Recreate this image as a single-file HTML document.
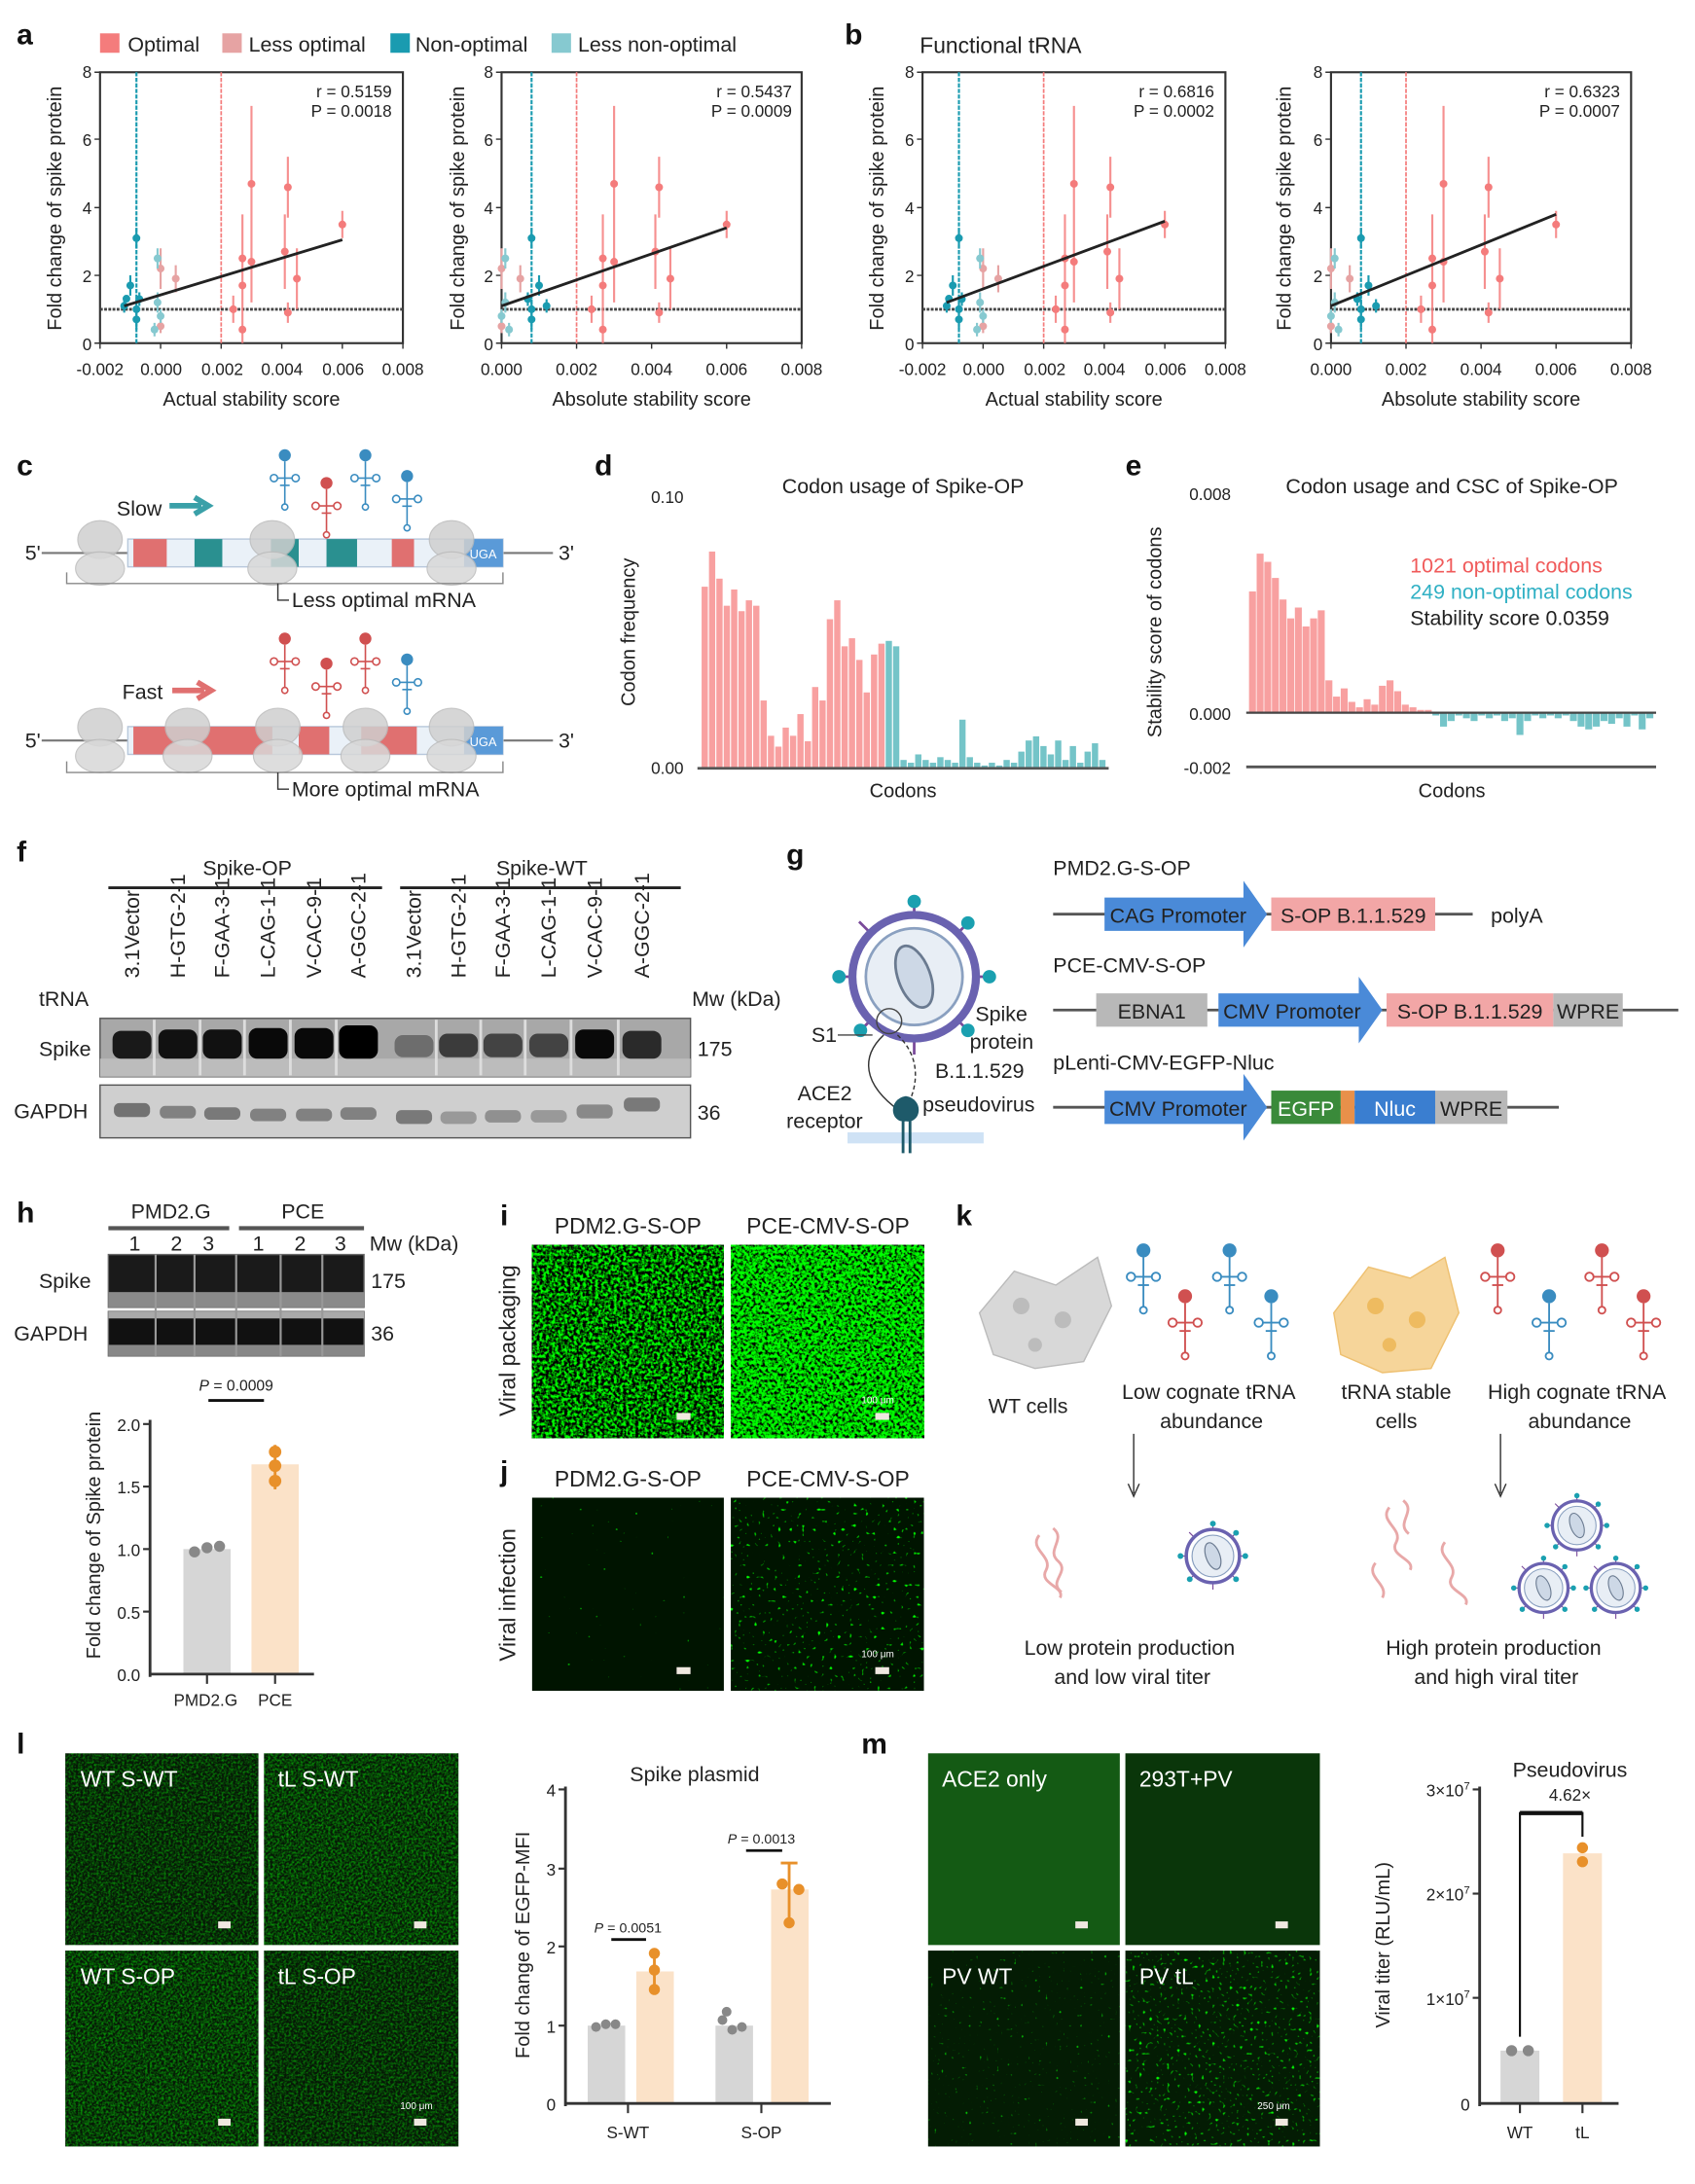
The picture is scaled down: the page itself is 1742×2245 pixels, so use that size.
<!DOCTYPE html>
<html><head><meta charset="utf-8">
<style>
html,body{margin:0;padding:0;background:#fff}
svg{display:block}
text{font-family:"Liberation Sans",Arial,sans-serif;fill:#222}
.pl{font-size:21px;font-weight:bold;fill:#111}
.t{font-size:14px}
.s{font-size:12px}
.m{font-size:15px}
.w{font-size:16px;fill:#fff}
.w text{fill:#fff}
</style></head><body>
<svg width="1742" height="2245" viewBox="0 0 1220 1572" preserveAspectRatio="none" xmlns="http://www.w3.org/2000/svg" xmlns:xlink="http://www.w3.org/1999/xlink">
<defs>
<filter id="gBright" x="0" y="0" width="1" height="1" color-interpolation-filters="sRGB"><feTurbulence type="fractalNoise" baseFrequency="0.45" numOctaves="2" seed="3"/><feColorMatrix values="0 0 0 0 0  3.2 0 0 0 -1.15  0 0 0 0 0  0 0 0 0 1"/></filter>
<filter id="gBright2" x="0" y="0" width="1" height="1" color-interpolation-filters="sRGB"><feTurbulence type="fractalNoise" baseFrequency="0.45" numOctaves="2" seed="7"/><feColorMatrix values="0 0 0 0 0  3.4 0 0 0 -0.95  0 0 0 0 0  0 0 0 0 1"/></filter>
<filter id="gSparse" x="0" y="0" width="1" height="1" color-interpolation-filters="sRGB"><feTurbulence type="fractalNoise" baseFrequency="0.35" numOctaves="1" seed="11"/><feColorMatrix values="0 0 0 0 0  9 0 0 0 -6.8  0 0 0 0 0  0 0 0 0 1"/></filter>
<filter id="gSparse2" x="0" y="0" width="1" height="1" color-interpolation-filters="sRGB"><feTurbulence type="fractalNoise" baseFrequency="0.35" numOctaves="1" seed="5"/><feColorMatrix values="0 0 0 0 0  9 0 0 0 -6.0  0 0 0 0 0  0 0 0 0 1"/></filter>
<filter id="gDim" x="0" y="0" width="1" height="1" color-interpolation-filters="sRGB"><feTurbulence type="fractalNoise" baseFrequency="0.6" numOctaves="2" seed="2"/><feColorMatrix values="0 0 0 0 0  1.1 0 0 0 -0.42  0 0 0 0 0  0 0 0 0 1"/></filter>
<filter id="gDim2" x="0" y="0" width="1" height="1" color-interpolation-filters="sRGB"><feTurbulence type="fractalNoise" baseFrequency="0.6" numOctaves="2" seed="9"/><feColorMatrix values="0 0 0 0 0  1.2 0 0 0 -0.42  0 0 0 0 0  0 0 0 0 1"/></filter>
<filter id="gPV" x="0" y="0" width="1" height="1" color-interpolation-filters="sRGB"><feTurbulence type="fractalNoise" baseFrequency="0.4" numOctaves="1" seed="4"/><feColorMatrix values="0 0 0 0 0  6 0 0 0 -4.2  0 0 0 0 0  0 0 0 0 1"/></filter>
<filter id="gPV2" x="0" y="0" width="1" height="1" color-interpolation-filters="sRGB"><feTurbulence type="fractalNoise" baseFrequency="0.4" numOctaves="1" seed="8"/><feColorMatrix values="0 0 0 0 0  6 0 0 0 -3.8  0 0 0 0 0  0 0 0 0 1"/></filter>
<symbol id="trna" viewBox="0 0 30 50" overflow="visible">
<circle cx="15" cy="5" r="5" fill="currentColor"/>
<g fill="none" stroke="currentColor" stroke-width="1.3"><line x1="15" y1="10" x2="15" y2="46"/><circle cx="6" cy="24" r="3"/><circle cx="24" cy="24" r="3"/><circle cx="15" cy="48" r="2.5"/><line x1="9" y1="24" x2="21" y2="24"/><line x1="11" y1="30" x2="19" y2="30"/></g>
</symbol>
<symbol id="virus" viewBox="-60 -60 120 120" overflow="visible">
<g stroke="#7a4a9a" stroke-width="2"><line x1="0" y1="-58" x2="0" y2="58"/><line x1="-58" y1="0" x2="58" y2="0"/><line x1="-41" y1="-41" x2="41" y2="41"/><line x1="41" y1="-41" x2="-41" y2="41"/></g>
<circle r="46" fill="#fff" stroke="#6a62b0" stroke-width="6"/>
<circle r="36" fill="#e8eef5" stroke="#8aa0c0" stroke-width="2"/>
<ellipse rx="12" ry="24" fill="#cdd8e6" stroke="#6a7a90" stroke-width="2" transform="rotate(-20)"/>
<g fill="#1aa0b0"><circle cx="0" cy="-56" r="5"/><circle cx="56" cy="0" r="5"/><circle cx="-40" cy="40" r="5"/><circle cx="40" cy="40" r="5"/><circle cx="-56" cy="0" r="5"/><circle cx="40" cy="-40" r="5"/></g>
</symbol>
<symbol id="ribo" viewBox="-25 -30 50 60" overflow="visible">
<ellipse cx="0" cy="-12" rx="20" ry="17" fill="#cfcfcf" stroke="#bbb" opacity="0.85"/>
<ellipse cx="0" cy="14" rx="22" ry="15" fill="#d8d8d8" stroke="#bbb" opacity="0.85"/>
</symbol>

<g id="p1">
<rect x="72" y="52" width="218" height="195" fill="none" stroke="#333" stroke-width="1.5"/>
<path d="M68 52H72M68 100.2H72M68 149.4H72M68 198.2H72M68 247H72M72 247V251M115.6 247V251M159.2 247V251M202.8 247V251M246.4 247V251M290 247V251" stroke="#333"/>
<line x1="98.2" y1="52" x2="98.2" y2="247" stroke="#1a9bb0" stroke-width="1.5" stroke-dasharray="3 1"/>
<line x1="159.2" y1="52" x2="159.2" y2="247" stroke="#f47c7c" stroke-width="1.2" stroke-dasharray="3 1"/>
<line x1="72" y1="222.6" x2="290" y2="222.6" stroke="#444" stroke-width="2" stroke-dasharray="2 1"/>
<path stroke="#f47c7c" stroke-width="1.5" opacity="0.85" fill="none" d="M174.5 154.3V217.7M174.5 181.1V229.9M174.5 227.5V247M167.9 212.8V232.4M181 76.2V188.4M181 159.2V217.7M205 154.3V208M207.2 112.8V156.7M207.2 217.7V232.4M213.7 178.7V222.6M246.4 151.8V171.4"/>
<g fill="#f47c7c"><circle cx="174.5" cy="186" r="2.8"/><circle cx="174.5" cy="205.5" r="2.8"/><circle cx="174.5" cy="237.2" r="2.8"/><circle cx="167.9" cy="222.6" r="2.8"/><circle cx="181" cy="132.3" r="2.8"/><circle cx="181" cy="188.4" r="2.8"/><circle cx="205" cy="181.1" r="2.8"/><circle cx="207.2" cy="134.8" r="2.8"/><circle cx="207.2" cy="225" r="2.8"/><circle cx="213.7" cy="200.6" r="2.8"/><circle cx="246.4" cy="161.6" r="2.8"/></g>
<path stroke="#e6a3a3" stroke-width="1.5" fill="none" d="M115.6 178.7V208M126.5 190.9V210.4M115.6 229.9V239.7"/>
<g fill="#e6a3a3"><circle cx="115.6" cy="193.3" r="2.8"/><circle cx="126.5" cy="200.6" r="2.8"/><circle cx="115.6" cy="234.8" r="2.8"/></g>
<path stroke="#1a9bb0" stroke-width="1.5" fill="none" d="M98.2 164V178.7M93.8 198.2V212.8M98.2 215.3V229.9M98.2 222.6V237.2M89.4 215.3V225M100.3 210.4V220.2"/>
<g fill="#1a9bb0"><circle cx="98.2" cy="171.4" r="2.8"/><circle cx="93.8" cy="205.5" r="2.8"/><circle cx="98.2" cy="222.6" r="2.8"/><circle cx="98.2" cy="229.9" r="2.8"/><circle cx="89.4" cy="220.2" r="2.8"/><circle cx="100.3" cy="215.3" r="2.8"/><circle cx="91" cy="215" r="2.8"/></g>
<path stroke="#86c9d0" stroke-width="1.5" fill="none" d="M113.4 178.7V193.3M113.4 210.4V225M115.6 222.6V232.4M111.2 232.4V242.1"/>
<g fill="#86c9d0"><circle cx="113.4" cy="186" r="2.8"/><circle cx="113.4" cy="217.7" r="2.8"/><circle cx="115.6" cy="227.5" r="2.8"/><circle cx="111.2" cy="237.2" r="2.8"/></g>
</g>
<g id="p2">
<rect x="361" y="52" width="216" height="195" fill="none" stroke="#333" stroke-width="1.5"/>
<path d="M357 52H361M357 100.2H361M357 149.4H361M357 198.2H361M357 247H361M361 247V251M415 247V251M469 247V251M523 247V251M577 247V251" stroke="#333"/>
<line x1="382.6" y1="52" x2="382.6" y2="247" stroke="#1a9bb0" stroke-width="1.5" stroke-dasharray="3 1"/>
<line x1="415" y1="52" x2="415" y2="247" stroke="#f47c7c" stroke-width="1.2" stroke-dasharray="3 1"/>
<line x1="361" y1="222.6" x2="577" y2="222.6" stroke="#444" stroke-width="2" stroke-dasharray="2 1"/>
<path stroke="#f47c7c" stroke-width="1.5" opacity="0.85" fill="none" d="M433.9 154.3V217.7M433.9 181.1V229.9M433.9 227.5V247M425.8 212.8V232.4M442 76.2V188.4M442 159.2V217.7M471.7 154.3V208M474.4 112.8V156.7M474.4 217.7V232.4M482.5 178.7V222.6M523 151.8V171.4"/>
<g fill="#f47c7c"><circle cx="433.9" cy="186" r="2.8"/><circle cx="433.9" cy="205.5" r="2.8"/><circle cx="433.9" cy="237.2" r="2.8"/><circle cx="425.8" cy="222.6" r="2.8"/><circle cx="442" cy="132.3" r="2.8"/><circle cx="442" cy="188.4" r="2.8"/><circle cx="471.7" cy="181.1" r="2.8"/><circle cx="474.4" cy="134.8" r="2.8"/><circle cx="474.4" cy="225" r="2.8"/><circle cx="482.5" cy="200.6" r="2.8"/><circle cx="523" cy="161.6" r="2.8"/></g>
<path stroke="#e6a3a3" stroke-width="1.5" fill="none" d="M361 178.7V208M374.5 190.9V210.4M361 229.9V239.7"/>
<g fill="#e6a3a3"><circle cx="361" cy="193.3" r="2.8"/><circle cx="374.5" cy="200.6" r="2.8"/><circle cx="361" cy="234.8" r="2.8"/></g>
<path stroke="#1a9bb0" stroke-width="1.5" fill="none" d="M382.6 164V178.7M388 198.2V212.8M382.6 215.3V229.9M382.6 222.6V237.2M393.4 215.3V225M379.9 210.4V220.2"/>
<g fill="#1a9bb0"><circle cx="382.6" cy="171.4" r="2.8"/><circle cx="388" cy="205.5" r="2.8"/><circle cx="382.6" cy="222.6" r="2.8"/><circle cx="382.6" cy="229.9" r="2.8"/><circle cx="393.4" cy="220.2" r="2.8"/><circle cx="379.9" cy="215.3" r="2.8"/></g>
<path stroke="#86c9d0" stroke-width="1.5" fill="none" d="M363.7 178.7V193.3M363.7 210.4V225M361 222.6V232.4M366.4 232.4V242.1"/>
<g fill="#86c9d0"><circle cx="363.7" cy="186" r="2.8"/><circle cx="363.7" cy="217.7" r="2.8"/><circle cx="361" cy="227.5" r="2.8"/><circle cx="366.4" cy="237.2" r="2.8"/></g>
</g>
</defs>

<!-- ===== Panel a / b ===== -->
<text class="pl" x="12" y="32">a</text>
<rect x="72" y="24" width="14" height="14" fill="#f47c7c"/><text class="m" x="92" y="37">Optimal</text>
<rect x="160" y="24" width="14" height="14" fill="#e6a3a3"/><text class="m" x="179" y="37">Less optimal</text>
<rect x="281" y="24" width="14" height="14" fill="#1a9bb0"/><text class="m" x="299" y="37">Non-optimal</text>
<rect x="397" y="24" width="14" height="14" fill="#86c9d0"/><text class="m" x="416" y="37">Less non-optimal</text>
<text class="pl" x="608" y="32">b</text>
<text class="m" x="662" y="38" style="font-size:16px">Functional tRNA</text>

<use href="#p1" xlink:href="#p1"/>
<line x1="89.4" y1="220.2" x2="246.4" y2="172.6" stroke="#222" stroke-width="2"/>
<use href="#p2" xlink:href="#p2"/>
<line x1="361" y1="220.2" x2="523" y2="164" stroke="#222" stroke-width="2"/>
<use href="#p1" xlink:href="#p1" x="592"/>
<line x1="681.4" y1="217.7" x2="838.4" y2="159.2" stroke="#222" stroke-width="2"/>
<use href="#p2" xlink:href="#p2" x="597"/>
<line x1="958" y1="220.2" x2="1120" y2="154.3" stroke="#222" stroke-width="2"/>

<g class="s" text-anchor="end">
<text x="66" y="56">8</text><text x="66" y="105">6</text><text x="66" y="154">4</text><text x="66" y="203">2</text><text x="66" y="252">0</text>
<text x="355" y="56">8</text><text x="355" y="105">6</text><text x="355" y="154">4</text><text x="355" y="203">2</text><text x="355" y="252">0</text>
<text x="658" y="56">8</text><text x="658" y="105">6</text><text x="658" y="154">4</text><text x="658" y="203">2</text><text x="658" y="252">0</text>
<text x="952" y="56">8</text><text x="952" y="105">6</text><text x="952" y="154">4</text><text x="952" y="203">2</text><text x="952" y="252">0</text>
</g>
<g class="s" text-anchor="middle">
<text x="72" y="270">-0.002</text><text x="116" y="270">0.000</text><text x="160" y="270">0.002</text><text x="203" y="270">0.004</text><text x="247" y="270">0.006</text><text x="290" y="270">0.008</text>
<text x="361" y="270">0.000</text><text x="415" y="270">0.002</text><text x="469" y="270">0.004</text><text x="523" y="270">0.006</text><text x="577" y="270">0.008</text>
<text x="664" y="270">-0.002</text><text x="708" y="270">0.000</text><text x="752" y="270">0.002</text><text x="795" y="270">0.004</text><text x="839" y="270">0.006</text><text x="882" y="270">0.008</text>
<text x="958" y="270">0.000</text><text x="1012" y="270">0.002</text><text x="1066" y="270">0.004</text><text x="1120" y="270">0.006</text><text x="1174" y="270">0.008</text>
</g>
<g class="t" text-anchor="middle">
<text x="181" y="292">Actual stability score</text>
<text x="469" y="292">Absolute stability score</text>
<text x="773" y="292">Actual stability score</text>
<text x="1066" y="292">Absolute stability score</text>
<text transform="translate(44,150) rotate(-90)">Fold change of spike protein</text>
<text transform="translate(334,150) rotate(-90)">Fold change of spike protein</text>
<text transform="translate(636,150) rotate(-90)">Fold change of spike protein</text>
<text transform="translate(929,150) rotate(-90)">Fold change of spike protein</text>
</g>
<g class="s" text-anchor="end">
<text x="282" y="70">r = 0.5159</text><text x="282" y="84">P = 0.0018</text>
<text x="570" y="70">r = 0.5437</text><text x="570" y="84">P = 0.0009</text>
<text x="874" y="70">r = 0.6816</text><text x="874" y="84">P = 0.0002</text>
<text x="1166" y="70">r = 0.6323</text><text x="1166" y="84">P = 0.0007</text>
</g>

<!-- ===== Panel c ===== -->
<text class="pl" x="12" y="342">c</text>
<line x1="30" y1="398" x2="92" y2="398" stroke="#777" stroke-width="1.5"/><line x1="362" y1="398" x2="398" y2="398" stroke="#777" stroke-width="1.5"/>
<rect x="92" y="388" width="270" height="20" fill="#eaf1f8" stroke="#b8c8dc"/>
<rect x="96" y="388" width="24" height="20" fill="#e07070"/><rect x="140" y="388" width="20" height="20" fill="#2a9090"/>
<rect x="195" y="388" width="20" height="20" fill="#2a9090"/><rect x="235" y="388" width="22" height="20" fill="#2a9090"/>
<rect x="282" y="388" width="16" height="20" fill="#e07070"/><rect x="334" y="388" width="28" height="20" fill="#5a9ad8"/>
<text x="338" y="402" style="font-size:9px;fill:#fff">UGA</text>
<use href="#ribo" xlink:href="#ribo" x="52" y="373" width="40" height="50"/><use href="#ribo" xlink:href="#ribo" x="176" y="373" width="40" height="50"/><use href="#ribo" xlink:href="#ribo" x="305" y="373" width="40" height="50"/>
<text class="m" x="18" y="403">5'</text><text class="m" x="402" y="403">3'</text>
<text class="m" x="84" y="371">Slow</text>
<path d="M122 364 H145 M140 358 L150 364 L140 370" stroke="#3aa0a8" stroke-width="4" fill="none"/>
<use href="#trna" xlink:href="#trna" x="192" y="323" width="26" height="44" style="color:#3a8cc0"/>
<use href="#trna" xlink:href="#trna" x="222" y="343" width="26" height="44" style="color:#d05050"/>
<use href="#trna" xlink:href="#trna" x="250" y="323" width="26" height="44" style="color:#3a8cc0"/>
<use href="#trna" xlink:href="#trna" x="280" y="338" width="26" height="44" style="color:#3a8cc0"/>
<path d="M48 412 V420 H362 V412" stroke="#888" fill="none"/>
<path d="M200 420 V432 H208" stroke="#333" fill="none"/>
<text class="m" x="210" y="437">Less optimal mRNA</text>

<line x1="30" y1="533" x2="92" y2="533" stroke="#777" stroke-width="1.5"/><line x1="362" y1="533" x2="398" y2="533" stroke="#777" stroke-width="1.5"/>
<rect x="92" y="523" width="270" height="20" fill="#eaf1f8" stroke="#b8c8dc"/>
<rect x="96" y="523" width="100" height="20" fill="#e07070"/><rect x="215" y="523" width="22" height="20" fill="#e07070"/>
<rect x="260" y="523" width="40" height="20" fill="#e07070"/><rect x="334" y="523" width="28" height="20" fill="#5a9ad8"/>
<text x="338" y="537" style="font-size:9px;fill:#fff">UGA</text>
<use href="#ribo" xlink:href="#ribo" x="52" y="508" width="40" height="50"/><use href="#ribo" xlink:href="#ribo" x="115" y="508" width="40" height="50"/><use href="#ribo" xlink:href="#ribo" x="180" y="508" width="40" height="50"/><use href="#ribo" xlink:href="#ribo" x="243" y="508" width="40" height="50"/><use href="#ribo" xlink:href="#ribo" x="305" y="508" width="40" height="50"/>
<text class="m" x="18" y="538">5'</text><text class="m" x="402" y="538">3'</text>
<text class="m" x="88" y="503">Fast</text>
<path d="M124 497 H147 M142 491 L152 497 L142 503" stroke="#e07070" stroke-width="4" fill="none"/>
<use href="#trna" xlink:href="#trna" x="192" y="455" width="26" height="44" style="color:#d05050"/>
<use href="#trna" xlink:href="#trna" x="222" y="473" width="26" height="44" style="color:#d05050"/>
<use href="#trna" xlink:href="#trna" x="250" y="455" width="26" height="44" style="color:#d05050"/>
<use href="#trna" xlink:href="#trna" x="280" y="470" width="26" height="44" style="color:#3a8cc0"/>
<path d="M48 548 V556 H362 V548" stroke="#888" fill="none"/>
<path d="M200 556 V568 H208" stroke="#333" fill="none"/>
<text class="m" x="210" y="573">More optimal mRNA</text>

<!-- ===== Panel d ===== -->
<text class="pl" x="428" y="342">d</text>
<text class="m" x="650" y="355" text-anchor="middle">Codon usage of Spike-OP</text>
<text class="s" x="492" y="362" text-anchor="end">0.10</text>
<text class="s" x="492" y="557" text-anchor="end">0.00</text>
<text class="t" transform="translate(457,455) rotate(-90)" text-anchor="middle">Codon frequency</text>
<text class="t" x="650" y="574" text-anchor="middle">Codons</text>
<g fill="#f8a0a0">
<rect x="505" y="422.3" width="4.5" height="130.7"/><rect x="510.3" y="397" width="4.5" height="156"/><rect x="515.6" y="416.5" width="4.5" height="136.5"/><rect x="520.9" y="436" width="4.5" height="117"/><rect x="526.2" y="424.3" width="4.5" height="128.7"/><rect x="531.5" y="439.9" width="4.5" height="113.1"/><rect x="536.8" y="432.1" width="4.5" height="120.9"/><rect x="542.1" y="436" width="4.5" height="117"/><rect x="547.4" y="504.2" width="4.5" height="48.8"/><rect x="552.7" y="529.6" width="4.5" height="23.4"/><rect x="558" y="537.4" width="4.5" height="15.6"/><rect x="563.3" y="523.7" width="4.5" height="29.3"/><rect x="568.6" y="529.6" width="4.5" height="23.4"/><rect x="573.9" y="514" width="4.5" height="39"/><rect x="579.2" y="533.5" width="4.5" height="19.5"/><rect x="584.5" y="494.5" width="4.5" height="58.5"/><rect x="589.8" y="504.2" width="4.5" height="48.8"/><rect x="595.1" y="445.7" width="4.5" height="107.3"/><rect x="600.4" y="432.1" width="4.5" height="120.9"/><rect x="605.7" y="465.2" width="4.5" height="87.8"/><rect x="611" y="459.4" width="4.5" height="93.6"/><rect x="616.3" y="475" width="4.5" height="78"/><rect x="621.6" y="498.4" width="4.5" height="54.6"/><rect x="626.9" y="471.1" width="4.5" height="81.9"/><rect x="632.2" y="463.3" width="4.5" height="89.7"/>
</g>
<g fill="#74c4c8">
<rect x="637.5" y="461.3" width="4.5" height="91.7"/><rect x="642.8" y="465.2" width="4.5" height="87.8"/><rect x="648.1" y="547" width="4.5" height="6"/><rect x="653.4" y="549" width="4.5" height="4"/><rect x="658.7" y="543" width="4.5" height="10"/><rect x="664" y="547" width="4.5" height="6"/><rect x="669.3" y="549" width="4.5" height="4"/><rect x="674.6" y="545" width="4.5" height="8"/><rect x="679.9" y="547" width="4.5" height="6"/><rect x="685.2" y="549" width="4.5" height="4"/><rect x="690.5" y="518" width="4.5" height="35"/><rect x="695.8" y="545" width="4.5" height="8"/><rect x="701.1" y="549" width="4.5" height="4"/><rect x="706.4" y="551" width="4.5" height="2"/><rect x="711.7" y="549" width="4.5" height="4"/><rect x="717" y="551" width="4.5" height="2"/><rect x="722.3" y="547" width="4.5" height="6"/><rect x="727.6" y="549" width="4.5" height="4"/><rect x="732.9" y="541" width="4.5" height="12"/><rect x="738.2" y="533" width="4.5" height="20"/><rect x="743.5" y="530" width="4.5" height="23"/><rect x="748.8" y="537" width="4.5" height="16"/><rect x="754.1" y="543" width="4.5" height="10"/><rect x="759.4" y="533" width="4.5" height="20"/><rect x="764.7" y="547" width="4.5" height="6"/><rect x="770" y="537" width="4.5" height="16"/><rect x="775.3" y="549" width="4.5" height="4"/><rect x="780.6" y="541" width="4.5" height="12"/><rect x="785.9" y="535" width="4.5" height="18"/><rect x="791.2" y="547" width="4.5" height="6"/>
</g>
<line x1="502" y1="553" x2="798" y2="553" stroke="#555" stroke-width="2"/>

<!-- ===== Panel e ===== -->
<text class="pl" x="810" y="342">e</text>
<text class="m" x="1045" y="355" text-anchor="middle">Codon usage and CSC of Spike-OP</text>
<text class="s" x="886" y="360" text-anchor="end">0.008</text>
<text class="s" x="886" y="518" text-anchor="end">0.000</text>
<text class="s" x="886" y="557" text-anchor="end">-0.002</text>
<text class="t" transform="translate(836,455) rotate(-90)" text-anchor="middle">Stability score of codons</text>
<text class="t" x="1045" y="574" text-anchor="middle">Codons</text>
<g fill="#f8a0a0">
<rect x="899" y="425.7" width="5" height="87.3"/><rect x="904.5" y="398.5" width="5" height="114.5"/><rect x="910" y="404.4" width="5" height="108.6"/><rect x="915.5" y="416" width="5" height="97"/><rect x="921" y="431.5" width="5" height="81.5"/><rect x="926.5" y="445.1" width="5" height="67.9"/><rect x="932" y="437.3" width="5" height="75.7"/><rect x="937.5" y="450.9" width="5" height="62.1"/><rect x="943" y="445.1" width="5" height="67.9"/><rect x="948.5" y="439.3" width="5" height="73.7"/><rect x="954" y="489.7" width="5" height="23.3"/><rect x="959.5" y="501.4" width="5" height="11.6"/><rect x="965" y="495.5" width="5" height="17.5"/><rect x="970.5" y="505.2" width="5" height="7.8"/><rect x="976" y="509.1" width="5" height="3.9"/><rect x="981.5" y="503.3" width="5" height="9.7"/><rect x="987" y="507.2" width="5" height="5.8"/><rect x="992.5" y="493.6" width="5" height="19.4"/><rect x="998" y="489.7" width="5" height="23.3"/><rect x="1003.5" y="497.5" width="5" height="15.5"/><rect x="1009" y="507.2" width="5" height="5.8"/><rect x="1014.5" y="509.1" width="5" height="3.9"/><rect x="1020" y="511" width="5" height="2"/><rect x="1025.5" y="511" width="5" height="2"/>
</g>
<g fill="#74c4c8">
<rect x="1031" y="513" width="5" height="2"/><rect x="1036.5" y="513" width="5" height="10"/><rect x="1042" y="513" width="5" height="6"/><rect x="1047.5" y="513" width="5" height="2"/><rect x="1053" y="513" width="5" height="4"/><rect x="1058.5" y="513" width="5" height="6"/><rect x="1064" y="513" width="5" height="2"/><rect x="1069.5" y="513" width="5" height="4"/><rect x="1075" y="513" width="5" height="2"/><rect x="1080.5" y="513" width="5" height="6"/><rect x="1086" y="513" width="5" height="4"/><rect x="1091.5" y="513" width="5" height="16"/><rect x="1097" y="513" width="5" height="6"/><rect x="1102.5" y="513" width="5" height="2"/><rect x="1108" y="513" width="5" height="4"/><rect x="1113.5" y="513" width="5" height="2"/><rect x="1119" y="513" width="5" height="4"/><rect x="1124.5" y="513" width="5" height="2"/><rect x="1130" y="513" width="5" height="6"/><rect x="1135.5" y="513" width="5" height="10"/><rect x="1141" y="513" width="5" height="12"/><rect x="1146.5" y="513" width="5" height="10"/><rect x="1152" y="513" width="5" height="6"/><rect x="1157.5" y="513" width="5" height="8"/><rect x="1163" y="513" width="5" height="4"/><rect x="1168.5" y="513" width="5" height="10"/><rect x="1174" y="513" width="5" height="2"/><rect x="1179.5" y="513" width="5" height="12"/><rect x="1185" y="513" width="5" height="4"/>
</g>
<line x1="897" y1="513" x2="1192" y2="513" stroke="#444" stroke-width="1.5"/>
<line x1="897" y1="552" x2="1192" y2="552" stroke="#555" stroke-width="2"/>
<text class="m" x="1015" y="412" style="fill:#f05a5a">1021 optimal codons</text>
<text class="m" x="1015" y="431" style="fill:#2fb0c4">249 non-optimal codons</text>
<text class="m" x="1015" y="450">Stability score 0.0359</text>

<!-- ===== Panel f ===== -->
<text class="pl" x="12" y="620">f</text>
<text class="m" x="178" y="630" text-anchor="middle">Spike-OP</text>
<text class="m" x="390" y="630" text-anchor="middle">Spike-WT</text>
<line x1="78" y1="639" x2="275" y2="639" stroke="#222" stroke-width="2"/>
<line x1="288" y1="639" x2="490" y2="639" stroke="#222" stroke-width="2"/>
<g class="m">
<text transform="translate(100,704) rotate(-90)">3.1Vector</text>
<text transform="translate(133,704) rotate(-90)">H-GTG-2-1</text>
<text transform="translate(165,704) rotate(-90)">F-GAA-3-1</text>
<text transform="translate(198,704) rotate(-90)">L-CAG-1-1</text>
<text transform="translate(231,704) rotate(-90)">V-CAC-9-1</text>
<text transform="translate(263,704) rotate(-90)">A-GGC-2-1</text>
<text transform="translate(303,704) rotate(-90)">3.1Vector</text>
<text transform="translate(335,704) rotate(-90)">H-GTG-2-1</text>
<text transform="translate(367,704) rotate(-90)">F-GAA-3-1</text>
<text transform="translate(400,704) rotate(-90)">L-CAG-1-1</text>
<text transform="translate(433,704) rotate(-90)">V-CAC-9-1</text>
<text transform="translate(467,704) rotate(-90)">A-GGC-2-1</text>
</g>
<text class="m" x="28" y="724">tRNA</text>
<text class="m" x="498" y="724">Mw (kDa)</text>
<rect x="72" y="733" width="425" height="42" fill="#a8a8a8" stroke="#555"/>
<rect x="72" y="762" width="425" height="13" fill="#bcbcbc"/>
<g fill="#000">
<rect x="81" y="742" width="28" height="20" rx="6" opacity="0.85"/><rect x="114" y="741" width="28" height="21" rx="6" opacity="0.9"/><rect x="146" y="741" width="28" height="21" rx="6" opacity="0.9"/><rect x="179" y="740" width="28" height="22" rx="6" opacity="0.95"/><rect x="212" y="740" width="28" height="22" rx="6" opacity="0.95"/><rect x="244" y="738" width="28" height="24" rx="6" opacity="1"/>
<rect x="284" y="745" width="28" height="16" rx="6" opacity="0.35"/><rect x="316" y="744" width="28" height="17" rx="6" opacity="0.65"/><rect x="348" y="744" width="28" height="17" rx="6" opacity="0.6"/><rect x="381" y="744" width="28" height="17" rx="6" opacity="0.6"/><rect x="414" y="741" width="28" height="21" rx="6" opacity="0.95"/><rect x="448" y="742" width="28" height="20" rx="6" opacity="0.75"/>
</g>
<g stroke="#ddd" stroke-width="2"><line x1="111" y1="734" x2="111" y2="774"/><line x1="144" y1="734" x2="144" y2="774"/><line x1="176" y1="734" x2="176" y2="774"/><line x1="209" y1="734" x2="209" y2="774"/><line x1="242" y1="734" x2="242" y2="774"/><line x1="314" y1="734" x2="314" y2="774"/><line x1="346" y1="734" x2="346" y2="774"/><line x1="378" y1="734" x2="378" y2="774"/><line x1="411" y1="734" x2="411" y2="774"/><line x1="445" y1="734" x2="445" y2="774"/></g>
<rect x="72" y="781" width="425" height="38" fill="#cfcfcf" stroke="#555"/>
<g fill="#333">
<rect x="82" y="794" width="26" height="10" rx="4" opacity="0.6"/><rect x="115" y="796" width="26" height="9" rx="4" opacity="0.5"/><rect x="147" y="797" width="26" height="9" rx="4" opacity="0.55"/><rect x="180" y="798" width="26" height="9" rx="4" opacity="0.5"/><rect x="213" y="798" width="26" height="9" rx="4" opacity="0.5"/><rect x="245" y="797" width="26" height="9" rx="4" opacity="0.5"/>
<rect x="285" y="799" width="26" height="10" rx="4" opacity="0.55"/><rect x="317" y="800" width="26" height="9" rx="4" opacity="0.35"/><rect x="349" y="799" width="26" height="9" rx="4" opacity="0.4"/><rect x="382" y="799" width="26" height="9" rx="4" opacity="0.35"/><rect x="415" y="795" width="26" height="10" rx="4" opacity="0.45"/><rect x="449" y="790" width="26" height="10" rx="4" opacity="0.55"/>
</g>
<text class="m" x="28" y="760">Spike</text><text class="m" x="10" y="805">GAPDH</text>
<text class="m" x="502" y="760">175</text><text class="m" x="502" y="806">36</text>

<!-- ===== Panel g ===== -->
<text class="pl" x="566" y="622">g</text>
<use href="#virus" xlink:href="#virus" x="600" y="645" width="116" height="116"/>
<circle cx="640" cy="735" r="9" fill="none" stroke="#444"/>
<path d="M603 745 H628" stroke="#444"/>
<path d="M636 745 C620 760 620 780 648 800" stroke="#333" fill="none"/>
<path d="M646 745 C662 760 662 780 652 798" stroke="#333" fill="none" stroke-dasharray="3 2"/>
<rect x="610" y="815" width="98" height="8" fill="#cfe2f5"/>
<path d="M652 790 C640 792 642 808 652 806 C662 808 664 792 652 790 Z M650 806 V830 M655 806 V830" fill="#1e5a6a" stroke="#1e5a6a" stroke-width="2"/>
<text class="m" x="702" y="735">Spike</text><text class="m" x="698" y="755">protein</text>
<text class="m" x="584" y="750">S1</text>
<text class="m" x="673" y="776">B.1.1.529</text><text class="m" x="664" y="800">pseudovirus</text>
<text class="m" x="574" y="792">ACE2</text><text class="m" x="566" y="812">receptor</text>

<text class="m" x="758" y="630">PMD2.G-S-OP</text>
<line x1="758" y1="658" x2="1060" y2="658" stroke="#555" stroke-width="2"/>
<path d="M795 646 H895 V634 L912 658 L895 682 V670 H795 Z" fill="#4a8ad8"/>
<text class="m" x="848" y="664" text-anchor="middle">CAG Promoter</text>
<rect x="915" y="646" width="118" height="24" fill="#f2a6a6"/>
<text class="m" x="974" y="664" text-anchor="middle">S-OP B.1.1.529</text>
<text class="m" x="1073" y="664">polyA</text>

<text class="m" x="758" y="700">PCE-CMV-S-OP</text>
<line x1="758" y1="727" x2="1208" y2="727" stroke="#555" stroke-width="2"/>
<rect x="789" y="715" width="80" height="24" fill="#b8b8b8"/><text class="m" x="829" y="733" text-anchor="middle">EBNA1</text>
<path d="M877 715 H978 V703 L995 727 L978 751 V739 H877 Z" fill="#4a8ad8"/>
<text class="m" x="930" y="733" text-anchor="middle">CMV Promoter</text>
<rect x="998" y="715" width="120" height="24" fill="#f2a6a6"/><text class="m" x="1058" y="733" text-anchor="middle">S-OP B.1.1.529</text>
<rect x="1118" y="715" width="50" height="24" fill="#b8b8b8"/><text class="m" x="1143" y="733" text-anchor="middle">WPRE</text>

<text class="m" x="758" y="770">pLenti-CMV-EGFP-Nluc</text>
<line x1="758" y1="797" x2="1122" y2="797" stroke="#555" stroke-width="2"/>
<path d="M795 785 H895 V773 L912 797 L895 821 V809 H795 Z" fill="#4a8ad8"/>
<text class="m" x="848" y="803" text-anchor="middle">CMV Promoter</text>
<rect x="915" y="785" width="50" height="24" fill="#3a8a3a"/><text class="m" x="940" y="803" text-anchor="middle" style="fill:#fff">EGFP</text>
<rect x="965" y="785" width="10" height="24" fill="#e8904a"/>
<rect x="975" y="785" width="58" height="24" fill="#3a7ed0"/><text class="m" x="1004" y="803" text-anchor="middle" style="fill:#fff">Nluc</text>
<rect x="1033" y="785" width="52" height="24" fill="#b8b8b8"/><text class="m" x="1059" y="803" text-anchor="middle">WPRE</text>

<!-- ===== Panel h ===== -->
<text class="pl" x="12" y="880">h</text>
<text class="m" x="123" y="877" text-anchor="middle">PMD2.G</text>
<text class="m" x="218" y="877" text-anchor="middle">PCE</text>
<line x1="78" y1="884" x2="165" y2="884" stroke="#555" stroke-width="3"/>
<line x1="172" y1="884" x2="262" y2="884" stroke="#555" stroke-width="3"/>
<g class="m" text-anchor="middle"><text x="97" y="900">1</text><text x="127" y="900">2</text><text x="150" y="900">3</text><text x="186" y="900">1</text><text x="216" y="900">2</text><text x="245" y="900">3</text></g>
<text class="m" x="266" y="900">Mw (kDa)</text>
<rect x="78" y="903" width="184" height="38" fill="#1a1a1a" stroke="#666"/>
<rect x="78" y="930" width="184" height="11" fill="#8a8a8a"/>
<rect x="78" y="944" width="184" height="32" fill="#111" stroke="#666"/>
<rect x="78" y="944" width="184" height="5" fill="#aaa"/>
<rect x="78" y="968" width="184" height="8" fill="#888"/>
<g stroke="#999" stroke-width="1.5"><line x1="112" y1="903" x2="112" y2="976"/><line x1="140" y1="903" x2="140" y2="976"/><line x1="170" y1="903" x2="170" y2="976"/><line x1="202" y1="903" x2="202" y2="976"/><line x1="232" y1="903" x2="232" y2="976"/></g>
<text class="m" x="28" y="927">Spike</text><text class="m" x="10" y="965">GAPDH</text>
<text class="m" x="267" y="927">175</text><text class="m" x="267" y="965">36</text>
<rect x="132" y="1115" width="34" height="90" fill="#d6d6d6"/>
<rect x="181" y="1054" width="34" height="151" fill="#fbe2c8"/>
<line x1="108" y1="1022" x2="108" y2="1207" stroke="#333" stroke-width="2"/>
<line x1="108" y1="1205" x2="226" y2="1205" stroke="#333" stroke-width="2"/>
<g stroke="#333" stroke-width="1.5"><line x1="103" y1="1025" x2="108" y2="1025"/><line x1="103" y1="1070" x2="108" y2="1070"/><line x1="103" y1="1115" x2="108" y2="1115"/><line x1="103" y1="1160" x2="108" y2="1160"/><line x1="149" y1="1205" x2="149" y2="1212"/><line x1="198" y1="1205" x2="198" y2="1212"/></g>
<g class="s" text-anchor="end"><text x="101" y="1030">2.0</text><text x="101" y="1075">1.5</text><text x="101" y="1120">1.0</text><text x="101" y="1165">0.5</text><text x="101" y="1210">0.0</text></g>
<g fill="#888"><circle cx="140" cy="1117" r="4"/><circle cx="149" cy="1114" r="4"/><circle cx="158" cy="1113" r="4"/></g>
<line x1="198" y1="1040" x2="198" y2="1072" stroke="#e8902a" stroke-width="2"/>
<g fill="#e8902a"><circle cx="198" cy="1045" r="4.5"/><circle cx="198" cy="1055" r="4.5"/><circle cx="198" cy="1066" r="4.5"/></g>
<text x="170" y="1001" text-anchor="middle" style="font-size:11px"><tspan font-style="italic">P</tspan> = 0.0009</text>
<line x1="150" y1="1008" x2="190" y2="1008" stroke="#111" stroke-width="2"/>
<text class="s" x="148" y="1228" text-anchor="middle">PMD2.G</text><text class="s" x="198" y="1228" text-anchor="middle">PCE</text>
<text class="t" transform="translate(72,1105) rotate(-90)" text-anchor="middle">Fold change of Spike protein</text>

<!-- ===== Panel i / j ===== -->
<text class="pl" x="360" y="882">i</text>
<text class="m" x="452" y="888" text-anchor="middle" style="font-size:16px">PDM2.G-S-OP</text>
<text class="m" x="596" y="888" text-anchor="middle" style="font-size:16px">PCE-CMV-S-OP</text>
<rect x="383" y="896" width="138" height="139" filter="url(#gBright)"/>
<rect x="526" y="896" width="139" height="139" filter="url(#gBright2)"/>
<text class="t" transform="translate(371,965) rotate(-90)" text-anchor="middle" style="font-size:16px">Viral packaging</text>
<text class="pl" x="360" y="1066">j</text>
<text class="m" x="452" y="1070" text-anchor="middle" style="font-size:16px">PDM2.G-S-OP</text>
<text class="m" x="596" y="1070" text-anchor="middle" style="font-size:16px">PCE-CMV-S-OP</text>
<rect x="383" y="1078" width="138" height="139" fill="#001400"/>
<rect x="383" y="1078" width="138" height="139" filter="url(#gSparse)" style="mix-blend-mode:screen"/>
<rect x="526" y="1078" width="139" height="139" fill="#001400"/>
<rect x="526" y="1078" width="139" height="139" filter="url(#gSparse2)" style="mix-blend-mode:screen"/>
<text class="t" transform="translate(371,1148) rotate(-90)" text-anchor="middle" style="font-size:16px">Viral infection</text>
<g fill="#f0e8e0"><rect x="487" y="1017" width="10" height="5"/><rect x="630" y="1017" width="10" height="5"/><rect x="487" y="1200" width="10" height="5"/><rect x="630" y="1200" width="10" height="5"/></g>
<text x="620" y="1010" style="font-size:7px;fill:#fff">100 μm</text><text x="620" y="1193" style="font-size:7px;fill:#fff">100 μm</text>

<!-- ===== Panel k ===== -->
<text class="pl" x="688" y="882">k</text>
<g fill="#d8d8d8" stroke="#bbb"><path d="M705 945 L730 915 L760 925 L790 905 L800 940 L780 980 L745 985 L715 975 Z"/></g>
<g fill="#bcbcbc"><circle cx="735" cy="940" r="6"/><circle cx="765" cy="950" r="6"/><circle cx="745" cy="968" r="5"/></g>
<use href="#trna" xlink:href="#trna" x="808" y="895" width="30" height="50" style="color:#3a8cc0"/>
<use href="#trna" xlink:href="#trna" x="870" y="895" width="30" height="50" style="color:#3a8cc0"/>
<use href="#trna" xlink:href="#trna" x="838" y="928" width="30" height="50" style="color:#d05050"/>
<use href="#trna" xlink:href="#trna" x="900" y="928" width="30" height="50" style="color:#3a8cc0"/>
<g fill="#f6d59a" stroke="#eec070"><path d="M960 945 L985 912 L1015 920 L1040 905 L1050 945 L1030 985 L995 988 L965 975 Z"/></g>
<g fill="#eebb60"><circle cx="990" cy="940" r="6"/><circle cx="1020" cy="950" r="6"/><circle cx="1000" cy="968" r="5"/></g>
<use href="#trna" xlink:href="#trna" x="1063" y="895" width="30" height="50" style="color:#d05050"/>
<use href="#trna" xlink:href="#trna" x="1138" y="895" width="30" height="50" style="color:#d05050"/>
<use href="#trna" xlink:href="#trna" x="1100" y="928" width="30" height="50" style="color:#3a8cc0"/>
<use href="#trna" xlink:href="#trna" x="1168" y="928" width="30" height="50" style="color:#d05050"/>
<g class="m" text-anchor="middle">
<text x="740" y="1017">WT cells</text>
<text x="870" y="1007">Low cognate tRNA</text><text x="872" y="1028">abundance</text>
<text x="1005" y="1007">tRNA stable</text><text x="1005" y="1028">cells</text>
<text x="1135" y="1007">High cognate tRNA</text><text x="1137" y="1028">abundance</text>
<text x="813" y="1191">Low protein production</text><text x="815" y="1212">and low viral titer</text>
<text x="1075" y="1191">High protein production</text><text x="1077" y="1212">and high viral titer</text>
</g>
<path d="M816 1032 V1075 M812 1068 L816 1077 L820 1068" stroke="#333" fill="none"/>
<path d="M1080 1032 V1075 M1076 1068 L1080 1077 L1084 1068" stroke="#333" fill="none"/>
<g fill="none" stroke="#e8a8a8" stroke-width="2"><path d="M748 1105 c-8 10 10 15 5 25 c-6 10 14 12 10 20 M758 1100 c10 8 -6 16 4 24 c8 8 -8 14 2 22"/></g>
<use href="#virus" xlink:href="#virus" x="848" y="1095" width="50" height="50"/>
<g fill="none" stroke="#e8a8a8" stroke-width="2"><path d="M1000 1085 c-8 10 10 15 5 25 c-6 10 14 12 10 20 M1010 1080 c10 8 -6 16 4 24 M990 1125 c-8 10 10 15 5 25 M1040 1110 c-8 10 10 15 5 25 c-6 10 14 12 10 20"/></g>
<use href="#virus" xlink:href="#virus" x="1112" y="1075" width="46" height="46"/>
<use href="#virus" xlink:href="#virus" x="1088" y="1120" width="46" height="46"/>
<use href="#virus" xlink:href="#virus" x="1140" y="1120" width="46" height="46"/>

<!-- ===== Panel l ===== -->
<text class="pl" x="12" y="1262">l</text>
<rect x="47" y="1262" width="139" height="138" fill="#061806"/>
<rect x="47" y="1262" width="139" height="138" filter="url(#gDim)" style="mix-blend-mode:screen"/>
<rect x="190" y="1262" width="140" height="138" fill="#061806"/>
<rect x="190" y="1262" width="140" height="138" filter="url(#gDim2)" style="mix-blend-mode:screen"/>
<rect x="47" y="1404" width="139" height="141" fill="#061806"/>
<rect x="47" y="1404" width="139" height="141" filter="url(#gDim2)" style="mix-blend-mode:screen"/>
<rect x="190" y="1404" width="140" height="141" fill="#061806"/>
<rect x="190" y="1404" width="140" height="141" filter="url(#gDim)" style="mix-blend-mode:screen"/>
<g class="w"><text x="58" y="1286">WT S-WT</text><text x="200" y="1286">tL S-WT</text><text x="58" y="1428">WT S-OP</text><text x="200" y="1428">tL S-OP</text></g>
<g fill="#f0e8e0"><rect x="157" y="1383" width="9" height="5"/><rect x="298" y="1383" width="9" height="5"/><rect x="157" y="1525" width="9" height="5"/><rect x="298" y="1525" width="9" height="5"/></g>
<text x="288" y="1518" style="font-size:7px;fill:#fff">100 μm</text>
<text class="m" x="500" y="1282" text-anchor="middle">Spike plasmid</text>
<rect x="423" y="1458" width="27" height="56" fill="#d6d6d6"/>
<rect x="458" y="1419" width="27" height="95" fill="#fbe2c8"/>
<rect x="515" y="1458" width="27" height="56" fill="#d6d6d6"/>
<rect x="555" y="1360" width="27" height="154" fill="#fbe2c8"/>
<line x1="407" y1="1286" x2="407" y2="1516" stroke="#333" stroke-width="2"/>
<line x1="407" y1="1514" x2="598" y2="1514" stroke="#333" stroke-width="2"/>
<g stroke="#333" stroke-width="1.5"><line x1="402" y1="1288" x2="407" y2="1288"/><line x1="402" y1="1345" x2="407" y2="1345"/><line x1="402" y1="1401" x2="407" y2="1401"/><line x1="402" y1="1458" x2="407" y2="1458"/><line x1="452" y1="1514" x2="452" y2="1521"/><line x1="548" y1="1514" x2="548" y2="1521"/></g>
<g class="s" text-anchor="end"><text x="400" y="1293">4</text><text x="400" y="1350">3</text><text x="400" y="1406">2</text><text x="400" y="1463">1</text><text x="400" y="1519">0</text></g>
<g fill="#888"><circle cx="429" cy="1459" r="3.5"/><circle cx="436" cy="1457" r="3.5"/><circle cx="443" cy="1457" r="3.5"/><circle cx="520" cy="1454" r="3.5"/><circle cx="527" cy="1461" r="3.5"/><circle cx="534" cy="1459" r="3.5"/><circle cx="523" cy="1448" r="3.5"/></g>
<line x1="471" y1="1403" x2="471" y2="1435" stroke="#e8902a" stroke-width="2"/>
<g fill="#e8902a"><circle cx="471" cy="1406" r="4"/><circle cx="471" cy="1418" r="4"/><circle cx="471" cy="1432" r="4"/><circle cx="563" cy="1356" r="4"/><circle cx="575" cy="1360" r="4"/><circle cx="568" cy="1384" r="4"/></g>
<line x1="568" y1="1341" x2="568" y2="1385" stroke="#e8902a" stroke-width="2"/>
<line x1="562" y1="1341" x2="574" y2="1341" stroke="#e8902a" stroke-width="2"/>
<text x="452" y="1391" text-anchor="middle" style="font-size:10px"><tspan font-style="italic">P</tspan> = 0.0051</text>
<line x1="440" y1="1396" x2="465" y2="1396" stroke="#111" stroke-width="2"/>
<text x="548" y="1327" text-anchor="middle" style="font-size:10px"><tspan font-style="italic">P</tspan> = 0.0013</text>
<line x1="537" y1="1332" x2="563" y2="1332" stroke="#111" stroke-width="2"/>
<text class="s" x="452" y="1539" text-anchor="middle">S-WT</text><text class="s" x="548" y="1539" text-anchor="middle">S-OP</text>
<text class="t" transform="translate(381,1400) rotate(-90)" text-anchor="middle">Fold change of EGFP-MFI</text>

<!-- ===== Panel m ===== -->
<text class="pl" x="620" y="1262">m</text>
<rect x="668" y="1262" width="138" height="138" fill="#145a14"/>
<rect x="810" y="1262" width="140" height="138" fill="#0a360a"/>
<rect x="668" y="1404" width="138" height="141" fill="#041c04"/>
<rect x="668" y="1404" width="138" height="141" filter="url(#gPV)" style="mix-blend-mode:screen"/>
<rect x="810" y="1404" width="140" height="141" fill="#041c04"/>
<rect x="810" y="1404" width="140" height="141" filter="url(#gPV2)" style="mix-blend-mode:screen"/>
<g class="w"><text x="678" y="1286">ACE2 only</text><text x="820" y="1286">293T+PV</text><text x="678" y="1428">PV WT</text><text x="820" y="1428">PV tL</text></g>
<g fill="#f0e8e0"><rect x="774" y="1383" width="9" height="5"/><rect x="918" y="1383" width="9" height="5"/><rect x="774" y="1525" width="9" height="5"/><rect x="918" y="1525" width="9" height="5"/></g>
<text x="905" y="1518" style="font-size:7px;fill:#fff">250 μm</text>
<text class="m" x="1130" y="1279" text-anchor="middle">Pseudovirus</text>
<text class="s" x="1130" y="1296" text-anchor="middle">4.62×</text>
<rect x="1080" y="1476" width="28" height="38" fill="#d6d6d6"/>
<rect x="1125" y="1334" width="28" height="180" fill="#fbe2c8"/>
<line x1="1065" y1="1286" x2="1065" y2="1516" stroke="#333" stroke-width="2"/>
<line x1="1065" y1="1514" x2="1165" y2="1514" stroke="#333" stroke-width="2"/>
<g stroke="#333" stroke-width="1.5"><line x1="1060" y1="1288" x2="1065" y2="1288"/><line x1="1060" y1="1363" x2="1065" y2="1363"/><line x1="1060" y1="1438" x2="1065" y2="1438"/><line x1="1094" y1="1514" x2="1094" y2="1521"/><line x1="1139" y1="1514" x2="1139" y2="1521"/></g>
<g class="s" text-anchor="end"><text x="1058" y="1293">3×10<tspan dy="-5" style="font-size:8px">7</tspan></text><text x="1058" y="1368">2×10<tspan dy="-5" style="font-size:8px">7</tspan></text><text x="1058" y="1443">1×10<tspan dy="-5" style="font-size:8px">7</tspan></text><text x="1058" y="1519">0</text></g>
<path d="M1094 1466 V1305 H1139 V1322" stroke="#111" stroke-width="1.5" fill="none"/>
<line x1="1094" y1="1305" x2="1139" y2="1305" stroke="#111" stroke-width="3"/>
<g fill="#888"><circle cx="1088" cy="1476" r="4"/><circle cx="1100" cy="1476" r="4"/></g>
<g fill="#e8902a"><circle cx="1139" cy="1330" r="4"/><circle cx="1139" cy="1340" r="4"/></g>
<text class="s" x="1094" y="1539" text-anchor="middle">WT</text><text class="s" x="1139" y="1539" text-anchor="middle">tL</text>
<text class="t" transform="translate(1000,1400) rotate(-90)" text-anchor="middle">Viral titer (RLU/mL)</text>
</svg>
</body></html>
